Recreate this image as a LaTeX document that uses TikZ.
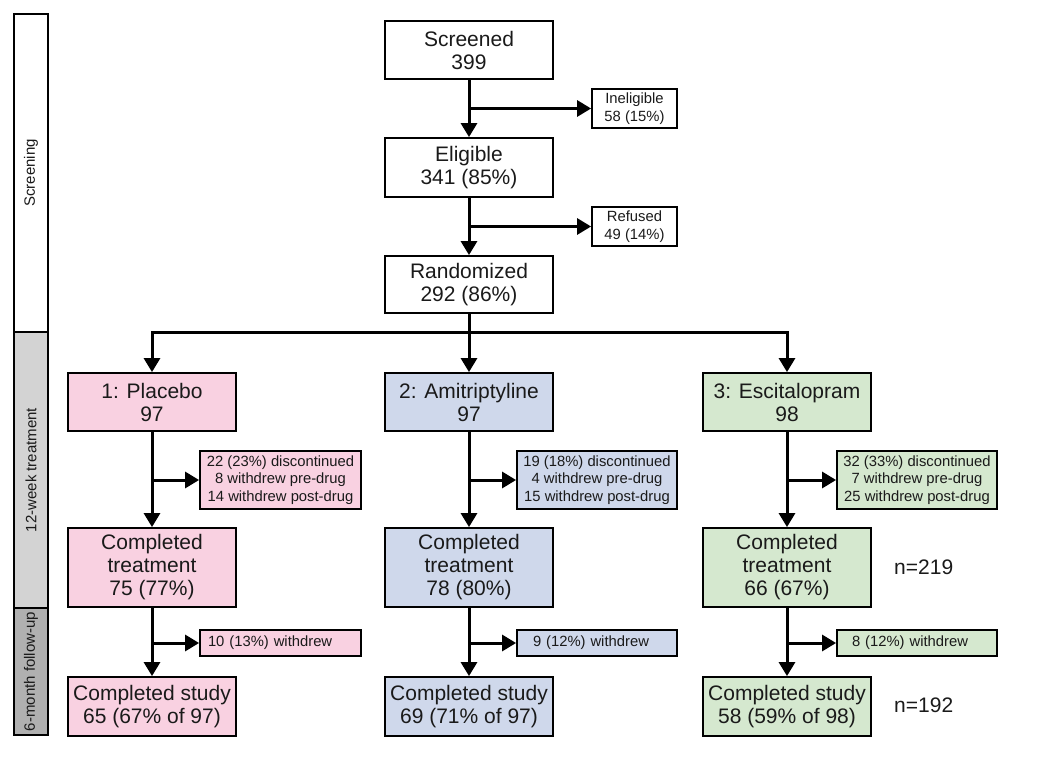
\documentclass[tikz,border=0pt]{standalone}
\usepackage{fontspec}
\setmainfont{Liberation Sans}
\usetikzlibrary{arrows.meta}
\definecolor{pinkf}{HTML}{F9D1E1}
\definecolor{bluef}{HTML}{CFD8EB}
\definecolor{greenf}{HTML}{D5E8CF}
\definecolor{greyA}{HTML}{D3D3D3}
\definecolor{greyB}{HTML}{B0B0B0}
\definecolor{txt}{HTML}{1A1A1A}
\begin{document}
\begin{tikzpicture}[x=1pt,y=-1pt,
  box/.style={draw=black, line width=1.8pt, inner sep=0pt, align=center, text=txt,
    minimum width=168pt, font=\fontsize{21}{23}\selectfont},
  sbox/.style={draw=black, line width=1.8pt, inner sep=0pt, align=center, text=txt,
    font=\fontsize{14.8}{17.5}\selectfont},
  side/.style={draw=black, line width=1.8pt, inner sep=0pt, minimum width=34pt, text=txt,
    font=\fontsize{15}{17}\selectfont},
  arr/.style={line width=3pt, -{Triangle[width=16pt,length=14pt]}},
  ln/.style={line width=3pt},
  ntext/.style={text=txt, font=\fontsize{21}{23}\selectfont, inner sep=0pt}]
\useasboundingbox (0,0) rectangle (1050,773);

% side bar
\node[side, fill=white, minimum height=318pt] (sScr) at (31,173) {\rotatebox{90}{Screening}};
\node[side, fill=greyA, minimum height=276pt] (sTr) at (31,470) {\rotatebox{90}{12-week treatment}};
\node[side, fill=greyB, minimum height=127pt] (sFu) at (31,671.5) {\rotatebox{90}{6-month follow-up}};

% screening column
\node[box, minimum height=58pt] (scr) at (469,50) {Screened\\399};
\node[box, minimum height=59pt] (eli) at (469,167.5) {Eligible\\341 (85\%)};
\node[box, minimum height=57pt] (ran) at (469,284.5) {Randomized\\292 (86\%)};
\node[sbox, minimum width=85pt, minimum height=39pt] (ine) at (634.5,108.5) {Ineligible\\58 (15\%)};
\node[sbox, minimum width=85pt, minimum height=39pt] (ref) at (634.5,226.5) {Refused\\49 (14\%)};

\coordinate (b1) at (469,108.5);
\coordinate (b2) at (469,226.5);
\draw[arr] (scr.south) -- (eli.north);
\draw[arr] (b1) -- (ine.west);
\draw[arr] (eli.south) -- (ran.north);
\draw[arr] (b2) -- (ref.west);

% groups
\node[box, fill=pinkf, minimum height=58pt] (g1) at (152,402) {1: Placebo\\97};
\node[box, fill=bluef, minimum height=58pt] (g2) at (469,402) {2: Amitriptyline\\97};
\node[box, fill=greenf, minimum height=58pt] (g3) at (787,402) {3: Escitalopram\\98};

\coordinate (r0) at (469,332);
\coordinate (r1) at (152,332);
\coordinate (r3) at (787,332);
\draw[ln] (ran.south) -- (r0);
\draw[ln, line cap=rect] (r1) -- (r3);
\draw[arr] (r1) -- (g1.north);
\draw[arr] (r0) -- (g2.north);
\draw[arr] (r3) -- (g3.north);

% discontinued boxes
\node[sbox, fill=pinkf, minimum width=161pt, minimum height=58pt] (d1) at (280.5,480)
  {22 (23\%) discontinued\\8 withdrew pre-drug\\14 withdrew post-drug};
\node[sbox, fill=bluef, minimum width=160pt, minimum height=58pt] (d2) at (597,480)
  {19 (18\%) discontinued\\4 withdrew pre-drug\\15 withdrew post-drug};
\node[sbox, fill=greenf, minimum width=160pt, minimum height=58pt] (d3) at (917,480)
  {32 (33\%) discontinued\\7 withdrew pre-drug\\25 withdrew post-drug};

% completed treatment
\node[box, fill=pinkf, minimum height=79pt] (c1) at (152,567.5) {Completed\\treatment\\75 (77\%)};
\node[box, fill=bluef, minimum height=79pt] (c2) at (469,567.5) {Completed\\treatment\\78 (80\%)};
\node[box, fill=greenf, minimum height=79pt] (c3) at (787,567.5) {Completed\\treatment\\66 (67\%)};

\coordinate (e1) at (152,480);
\coordinate (e2) at (469,480);
\coordinate (e3) at (787,480);
\draw[arr] (g1.south) -- (c1.north);
\draw[arr] (g2.south) -- (c2.north);
\draw[arr] (g3.south) -- (c3.north);
\draw[arr] (e1) -- (d1.west);
\draw[arr] (e2) -- (d2.west);
\draw[arr] (e3) -- (d3.west);

% withdrew boxes
\node[sbox, fill=pinkf, minimum width=161pt, minimum height=26pt, text width=145pt, align=left] (w1) at (280.5,643) {10 (13\%) withdrew};
\node[sbox, fill=bluef, minimum width=160pt, minimum height=26pt, text width=128pt, align=left] (w2) at (597,643) {9 (12\%) withdrew};
\node[sbox, fill=greenf, minimum width=160pt, minimum height=26pt, text width=130pt, align=left] (w3) at (917,643) {8 (12\%) withdrew};

% completed study
\node[box, fill=pinkf, minimum height=59pt] (s1) at (152,706.5) {Completed study\\65 (67\% of 97)};
\node[box, fill=bluef, minimum height=59pt] (s2) at (469,706.5) {Completed study\\69 (71\% of 97)};
\node[box, fill=greenf, minimum height=59pt] (s3) at (787,706.5) {Completed study\\58 (59\% of 98)};

\coordinate (f1) at (152,643);
\coordinate (f2) at (469,643);
\coordinate (f3) at (787,643);
\draw[arr] (c1.south) -- (s1.north);
\draw[arr] (c2.south) -- (s2.north);
\draw[arr] (c3.south) -- (s3.north);
\draw[arr] (f1) -- (w1.west);
\draw[arr] (f2) -- (w2.west);
\draw[arr] (f3) -- (w3.west);

% totals
\node[ntext, anchor=west] (n1) at (894,567) {n=219};
\node[ntext, anchor=west] (n2) at (894,705) {n=192};
\end{tikzpicture}
\end{document}
